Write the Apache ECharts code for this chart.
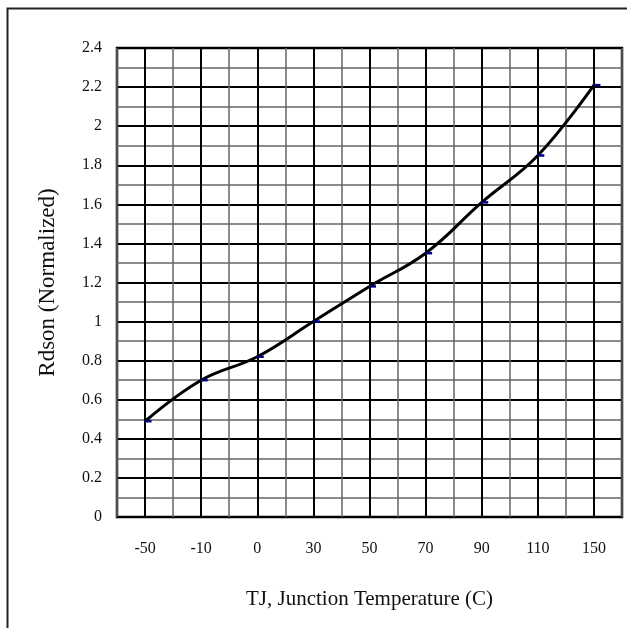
<!DOCTYPE html>
<html><head><meta charset="utf-8">
<script src="https://cdn.jsdelivr.net/npm/echarts@6/dist/echarts.min.js"></script>
<style>html,body{margin:0;padding:0;background:#fff}#c{width:627px;height:628px}</style>
</head><body><div id="c"></div>
<script>
var categories = ['-50', '-10', '0', '30', '50', '70', '90', '110', '150'];
var rdson = [0.49, 0.70, 0.82, 1.00, 1.18, 1.35, 1.61, 1.85, 2.21];
var yMin = 0, yMax = 2.4, yStep = 0.2;
var xName = 'TJ, Junction Temperature (C)';
var yName = 'Rdson (Normalized)';

var font = '"Liberation Serif", "DejaVu Serif", serif';
var chart = echarts.init(document.getElementById('c'), null, {renderer: 'canvas'});
chart.setOption({
  animation: false,
  backgroundColor: '#fff',
  graphic: [{
    type: 'rect', left: 5, top: 6, z: -1,
    shape: {width: 720, height: 720},
    style: {fill: 'none', stroke: '#222', lineWidth: 2}
  }],
  grid: {left: 117, right: 5, top: 48, bottom: 111, show: true, borderColor: '#000', borderWidth: 2.5, backgroundColor: 'transparent'},
  xAxis: {
    type: 'category', data: categories, boundaryGap: true,
    axisLine: {show: false}, axisTick: {show: false},
    axisLabel: {fontFamily: font, fontSize: 16, color: '#111', margin: 24},
    splitLine: {show: true, interval: 0, lineStyle: {color: '#666', width: 1.5}},
    name: xName, nameLocation: 'middle', nameGap: 72,
    nameTextStyle: {fontFamily: font, fontSize: 21, color: '#111'}
  },
  yAxis: {
    type: 'value', min: yMin, max: yMax, interval: yStep,
    axisLine: {show: false}, axisTick: {show: false},
    axisLabel: {fontFamily: font, fontSize: 16, color: '#111', margin: 15},
    splitLine: {show: true, lineStyle: {color: '#000', width: 2}},
    minorTick: {show: false, splitNumber: 2},
    minorSplitLine: {show: true, lineStyle: {color: '#666', width: 1.5}},
    name: yName, nameLocation: 'middle', nameGap: 58,
    nameTextStyle: {fontFamily: font, fontSize: 23, color: '#111'}
  },
  series: [{
    type: 'line', data: rdson, smooth: 0.4,
    lineStyle: {color: '#000', width: 3},
    symbol: 'rect', symbolSize: [7, 2.5], symbolOffset: [3, 0],
    itemStyle: {color: '#000080'},
    z: 3,
    markLine: {
      silent: true, symbol: 'none', label: {show: false},
      lineStyle: {color: '#000', width: 2, type: 'solid'},
      data: categories.map(function (c) { return {xAxis: c}; }),
      z: 1
    }
  }]
});
</script>
</body></html>
